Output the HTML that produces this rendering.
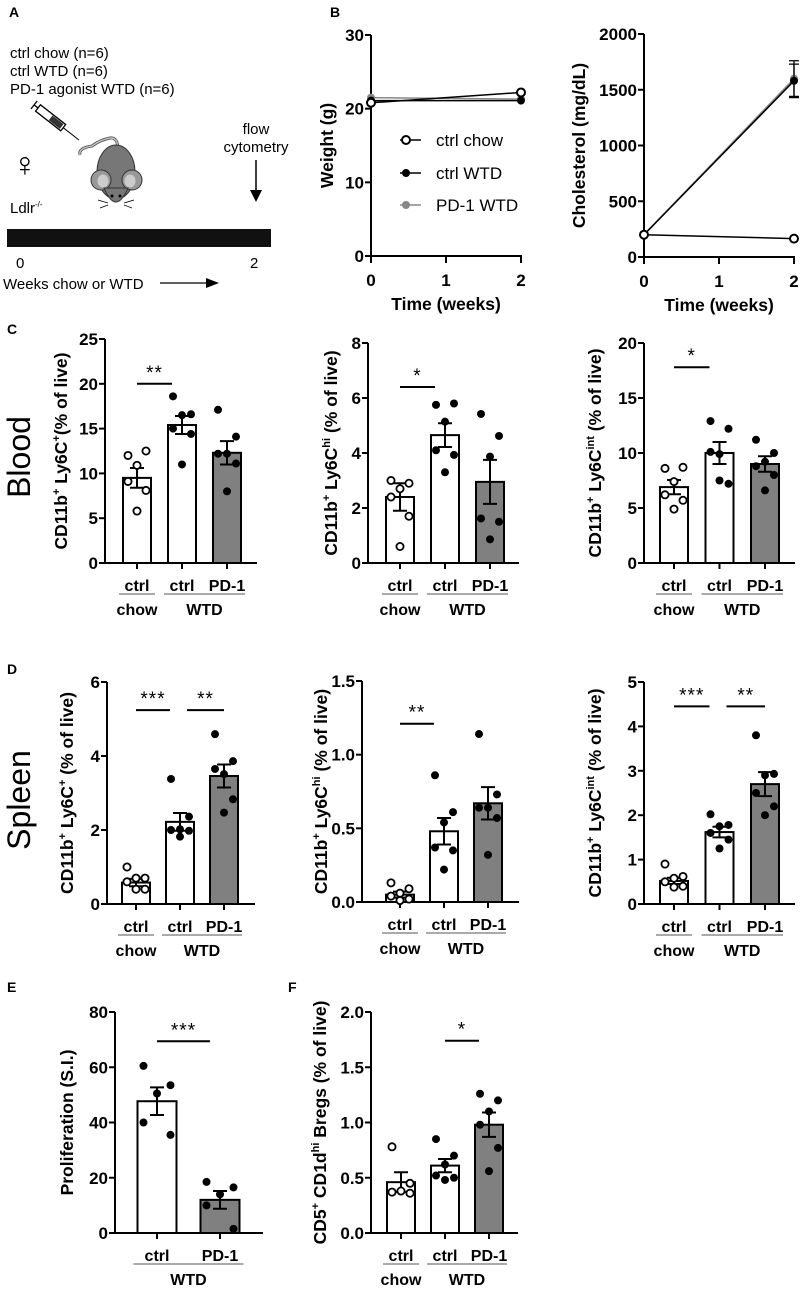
<!DOCTYPE html>
<html><head><meta charset="utf-8">
<style>
html,body{margin:0;padding:0;background:#fff;}
svg{display:block;font-family:"Liberation Sans",Arial,sans-serif;}
.b{font-weight:bold;}
</style></head>
<body>
<svg id="fig" width="804" height="1298" viewBox="0 0 804 1298" xmlns="http://www.w3.org/2000/svg">
<g>
  <text x="9" y="17" class="b" font-size="14">A</text>
  <text x="10" y="58" font-size="15">ctrl chow (n=6)</text>
  <text x="10" y="76" font-size="15">ctrl WTD (n=6)</text>
  <text x="10" y="94" font-size="15">PD-1 agonist WTD (n=6)</text>
  <g transform="translate(38,108) rotate(38)">
    <rect x="0" y="-4" width="32" height="8" fill="#fff" stroke="#000" stroke-width="1.3"/>
    <rect x="16" y="-3" width="14" height="6" fill="#333"/>
    <line x1="-5" y1="0" x2="0" y2="0" stroke="#000" stroke-width="1.3"/>
    <line x1="-5" y1="-5" x2="-5" y2="5" stroke="#000" stroke-width="1.3"/>
    <line x1="32" y1="0" x2="52" y2="0" stroke="#000" stroke-width="1"/>
  </g>
  <g>
    <path d="M80 155 Q78 148 92 146 Q100 140 110 138 Q118 137 118 150" fill="none" stroke="#555" stroke-width="3"/>
    <path d="M80 155 Q78 148 92 146 Q100 140 110 138 Q118 137 118 150" fill="none" stroke="#ccc" stroke-width="1.3"/>
    <ellipse cx="116" cy="172" rx="19" ry="27" fill="#777" stroke="#333" stroke-width="1"/>
    <ellipse cx="101" cy="180" rx="10" ry="10" fill="#999" stroke="#333"/>
    <ellipse cx="132" cy="180" rx="10" ry="10" fill="#999" stroke="#333"/>
    <ellipse cx="103" cy="181" rx="5.5" ry="6.5" fill="#ccc"/>
    <ellipse cx="130" cy="181" rx="5.5" ry="6.5" fill="#ccc"/>
    <path d="M104 188 Q116 216 128 188 Z" fill="#777" stroke="#333"/>
    <circle cx="112" cy="196" r="1.5" fill="#000"/><circle cx="120" cy="196" r="1.5" fill="#000"/>
    <path d="M108 203 L98 200 M108 205 L100 208 M124 203 L134 200 M124 205 L132 208" stroke="#000" stroke-width="0.8"/>
  </g>
  <text x="12" y="176" font-size="34">♀</text>
  <text x="10" y="213" font-size="15">Ldlr<tspan font-size="8" dy="-6">-/-</tspan></text>
  <text x="256" y="134" font-size="15" text-anchor="middle">flow</text>
  <text x="256" y="152" font-size="15" text-anchor="middle">cytometry</text>
  <line x1="256" y1="160" x2="256" y2="192" stroke="#000" stroke-width="1.5"/>
  <path d="M250 190 L262 190 L256 202 Z" fill="#000"/>
  <rect x="7" y="229" width="264" height="18" fill="#111"/>
  <text x="16" y="268" font-size="15">0</text>
  <text x="250" y="268" font-size="15">2</text>
  <text x="3" y="289" font-size="15">Weeks chow or WTD</text>
  <line x1="160" y1="283" x2="210" y2="283" stroke="#000" stroke-width="1.3"/>
  <path d="M206 278 L219 283 L206 288 Z" fill="#000"/>
</g>
<text x="330" y="17" class="b" font-size="14">B</text>
<text x="7" y="334" class="b" font-size="14">C</text>
<text x="7" y="674" class="b" font-size="14">D</text>
<text x="7" y="992" class="b" font-size="14">E</text>
<text x="288" y="992" class="b" font-size="14">F</text>
<text transform="translate(30,457) rotate(-90)" font-size="32" text-anchor="middle">Blood</text>
<text transform="translate(30,800) rotate(-90)" font-size="32" text-anchor="middle">Spleen</text>
<g id="charts"></g>
</svg>
<script>
// ---- Panel B data ----
const timeWeeks = [0, 2];
const weightChow = [20.8, 22.2];
const weightWTD = [21.1, 21.1];
const weightPD1 = [21.5, 21.3];
const cholChow = [200, 165];
const cholWTD = [200, 1580];
const cholPD1 = [200, 1600];
const cholSemWTD = [0, 150];
const cholSemPD1 = [0, 160];
const weightTicks = [0, 10, 20, 30];
const cholTicks = [0, 500, 1000, 1500, 2000];
const timeTicks = [0, 1, 2];

// ---- Bar chart data ----
const groups3 = ["ctrl", "ctrl", "PD-1"];
const groups2 = ["ctrl", "PD-1"];
const c1Means = [9.5, 15.4, 12.3];
const c1Sem = [1.1, 1.0, 1.3];
const c1Dots = [[12.0, 12.5, 10.9, 9.1, 8.1, 5.8], [18.6, 16.6, 16.5, 15.0, 14.4, 11.0], [17.1, 14.1, 12.2, 12.2, 11.1, 8.0]];
const c2Means = [2.4, 4.65, 2.95];
const c2Sem = [0.5, 0.43, 0.8];
const c2Dots = [[3.0, 2.9, 2.7, 2.4, 1.7, 0.6], [5.75, 5.8, 5.14, 4.1, 3.93, 3.3], [5.42, 4.62, 3.87, 1.62, 1.5, 0.86]];
const c3Means = [6.9, 10.0, 9.0];
const c3Sem = [0.65, 1.0, 0.7];
const c3Dots = [[8.6, 8.7, 7.4, 6.2, 5.7, 4.9], [12.9, 12.2, 9.9, 10.1, 7.2, 7.5], [11.2, 10.0, 9.2, 8.8, 8.0, 6.6]];
const d1Means = [0.58, 2.22, 3.46];
const d1Sem = [0.1, 0.24, 0.31];
const d1Dots = [[1.0, 0.7, 0.7, 0.6, 0.4, 0.4], [3.38, 2.36, 2.02, 2.0, 1.98, 1.82], [4.59, 3.86, 3.51, 3.65, 2.83, 2.47]];
const d2Means = [0.05, 0.48, 0.67];
const d2Sem = [0.02, 0.09, 0.11];
const d2Dots = [[0.13, 0.09, 0.06, 0.04, 0.02, 0.01], [0.86, 0.61, 0.54, 0.37, 0.35, 0.22], [1.14, 0.73, 0.64, 0.64, 0.57, 0.32]];
const d3Means = [0.52, 1.62, 2.7];
const d3Sem = [0.07, 0.12, 0.27];
const d3Dots = [[0.9, 0.62, 0.58, 0.5, 0.4, 0.38], [2.02, 1.78, 1.75, 1.6, 1.45, 1.25], [3.8, 2.93, 2.9, 2.5, 2.2, 2.0]];
const eMeans = [47.7, 12.0];
const eSem = [5.0, 3.2];
const eDots = [[60.5, 53.5, 50.5, 40.0, 35.5], [18.5, 16.5, 14.0, 10.0, 1.5]];
const fMeans = [0.46, 0.61, 0.98];
const fSem = [0.09, 0.06, 0.11];
const fDots = [[0.78, 0.45, 0.38, 0.37, 0.36], [0.85, 0.7, 0.62, 0.52, 0.5, 0.48], [1.26, 1.2, 1.1, 0.98, 0.77, 0.56]];
const c1Ticks = [0, 5, 10, 15, 20, 25];
const c2Ticks = [0, 2, 4, 6, 8];
const c3Ticks = [0, 5, 10, 15, 20];
const d1Ticks = [0, 2, 4, 6];
const d2Ticks = ["0.0", "0.5", "1.0", "1.5"];
const d3Ticks = [0, 1, 2, 3, 4, 5];
const eTicks = [0, 20, 40, 60, 80];
const fTicks = ["0.0", "0.5", "1.0", "1.5", "2.0"];
const c1Sig = [[0, 1, "**", 20.0]];
const c2Sig = [[0, 1, "*", 6.4]];
const c3Sig = [[0, 1, "*", 17.8]];
const d1Sig = [[0, 1, "***", 5.24], [1, 2, "**", 5.24]];
const d2Sig = [[0, 1, "**", 1.21]];
const d3Sig = [[0, 1, "***", 4.45], [1, 2, "**", 4.45]];
const eSig = [[0, 1, "***", 69.4]];
const fSig = [[1, 2, "*", 1.74]];

const NS = "http://www.w3.org/2000/svg";
const root = document.getElementById("charts");
function mk(tag, attrs, parent) {
  const e = document.createElementNS(NS, tag);
  for (const k in attrs) e.setAttribute(k, attrs[k]);
  (parent || root).appendChild(e);
  return e;
}
function txt(s, attrs, parent) { const e = mk("text", attrs, parent); e.textContent = s; return e; }

function barChart(cfg) {
  const g = mk("g", {});
  
  
  const ymax = parseFloat(cfg.ticks[cfg.ticks.length - 1]);
  const y = v => cfg.y0 - (v / ymax) * (cfg.y0 - cfg.yTop);
  const x = i => cfg.ax + cfg.first + i * cfg.step;
  const ya = mk("line", {x1: cfg.ax, y1: cfg.yTop, x2: cfg.ax, y2: cfg.y0 + 1, stroke: "#000", "stroke-width": 2}, g);
  
  
  const xa = mk("line", {x1: cfg.ax - 1, y1: cfg.y0, x2: cfg.xEnd, y2: cfg.y0, stroke: "#000", "stroke-width": 2}, g);
  
  
  cfg.ticks.forEach(t => {
    const yy = y(parseFloat(t));
    mk("line", {x1: cfg.ax - 6, y1: yy, x2: cfg.ax, y2: yy, stroke: "#000", "stroke-width": 2}, g);
    const tl = txt(String(t), {x: cfg.ax - 7, y: yy + 6, "font-size": 17, "font-weight": "bold", "text-anchor": "end"}, g);
    
    
  });
  const yt = txt("", {transform: `translate(${cfg.titleX},${(cfg.y0 + cfg.yTop) / 2}) rotate(-90)`, "font-size": 17.5, "font-weight": "bold", "text-anchor": "middle"}, g);
  yt.innerHTML = cfg.title;
  
  
  cfg.means.forEach((m, i) => {
    const cx = x(i);
    const bar = mk("rect", {x: cx - cfg.bw / 2, y: y(m), width: cfg.bw, height: cfg.y0 - y(m), fill: cfg.fills[i], stroke: "#000", "stroke-width": 2}, g);
    
    
    mk("line", {x1: cx, y1: cfg.y0, x2: cx, y2: cfg.y0 + 6, stroke: "#000", "stroke-width": 2}, g);
    const s = cfg.sem[i];
    const eb = mk("path", {d: `M${cx} ${y(m + s)} L${cx} ${y(m - s)} M${cx - 7} ${y(m + s)} L${cx + 7} ${y(m + s)} M${cx - 7} ${y(m - s)} L${cx + 7} ${y(m - s)}`, stroke: "#000", "stroke-width": 2, fill: "none"}, g);
    
    
    const n = cfg.dots[i].length;
    cfg.dots[i].forEach((v, j) => {
      const dx = (cfg.bw > 30 ? 1.5 : 1) * (n === 5 ? [-10, 10, 0, -10, 10][j] : [-10, 10, 0, -10, 10, 0][j]) * 0.9;
      const open = cfg.open[i];
      const d = mk("circle", {cx: cx + dx, cy: y(v), r: open ? 3.6 : 4, fill: open ? "#fff" : "#000", stroke: "#000", "stroke-width": open ? 1.8 : 0}, g);
      
      
    });
    const gl = txt(cfg.groups[i], {x: cx, y: cfg.y0 + 28, "font-size": 16, "font-weight": "bold", "text-anchor": "middle"}, g);
    
    
  });
  cfg.diets.forEach(dd => {
    const x1 = x(dd[0]) - cfg.bw / 2 - 4, x2 = x(dd[1]) + cfg.bw / 2 + 4;
    mk("line", {x1, y1: cfg.y0 + 31, x2, y2: cfg.y0 + 31, stroke: "#555", "stroke-width": 1}, g);
    const dl = txt(dd[2], {x: (x(dd[0]) + x(dd[1])) / 2, y: cfg.y0 + 52, "font-size": 16, "font-weight": "bold", "text-anchor": "middle"}, g);
    
    
  });
  cfg.sig.forEach((sg, k) => {
    const yy = y(sg[3]);
    const x1 = x(sg[0]) + (k > 0 ? 7 : 0), x2 = x(sg[1]) - (k > 0 ? 0 : 10);
    const l = mk("line", {x1, y1: yy, x2, y2: yy, stroke: "#000", "stroke-width": 2}, g);
    
    
    const st = txt(sg[2], {x: (x1 + x2) / 2, y: yy - 5, "font-size": 19, "text-anchor": "middle", "letter-spacing": "1"}, g);
    
    
  });
}
const F3 = ["#fff", "#fff", "#808080"], O3 = [true, false, false];
const D3 = [[0, 0, "chow"], [1, 2, "WTD"]];
const C11 = 'CD11b<tspan font-size="11" dy="-7">+</tspan><tspan dy="7"> Ly6C</tspan>';
barChart({name: "blood-ly6c", ax: 105, first: 32, step: 45, bw: 28, xEnd: 257, y0: 563, yTop: 339, ticks: c1Ticks, means: c1Means, sem: c1Sem, dots: c1Dots, fills: F3, open: O3, groups: groups3, diets: D3, sig: c1Sig, titleX: 67, title: C11 + '<tspan font-size="11" dy="-7">+</tspan><tspan dy="7">(% of live)</tspan>'});
barChart({name: "blood-ly6c-hi", ax: 368, first: 32, step: 45, bw: 28, xEnd: 519, y0: 563, yTop: 343, ticks: c2Ticks, means: c2Means, sem: c2Sem, dots: c2Dots, fills: F3, open: O3, groups: groups3, diets: D3, sig: c2Sig, titleX: 337, title: C11 + '<tspan font-size="11" dy="-7">hi</tspan><tspan dy="7"> (% of live)</tspan>'});
barChart({name: "blood-ly6c-int", ax: 644, first: 30, step: 45.5, bw: 28, xEnd: 795, y0: 563, yTop: 343, ticks: c3Ticks, means: c3Means, sem: c3Sem, dots: c3Dots, fills: F3, open: O3, groups: groups3, diets: D3, sig: c3Sig, titleX: 601, title: C11 + '<tspan font-size="11" dy="-7">int</tspan><tspan dy="7"> (% of live)</tspan>'});
barChart({name: "spleen-ly6c", ax: 107, first: 29, step: 44, bw: 28, xEnd: 255, y0: 904, yTop: 682, ticks: d1Ticks, means: d1Means, sem: d1Sem, dots: d1Dots, fills: F3, open: O3, groups: groups3, diets: D3, sig: d1Sig, titleX: 73, title: C11 + '<tspan font-size="11" dy="-7">+</tspan><tspan dy="7"> (% of live)</tspan>'});
barChart({name: "spleen-ly6c-hi", ax: 362, first: 38, step: 44, bw: 28, xEnd: 519, y0: 902, yTop: 681, ticks: d2Ticks, means: d2Means, sem: d2Sem, dots: d2Dots, fills: F3, open: O3, groups: groups3, diets: D3, sig: d2Sig, titleX: 327, title: C11 + '<tspan font-size="11" dy="-7">hi</tspan><tspan dy="7"> (% of live)</tspan>'});
barChart({name: "spleen-ly6c-int", ax: 644, first: 30, step: 45.5, bw: 28, xEnd: 795, y0: 904, yTop: 682, ticks: d3Ticks, means: d3Means, sem: d3Sem, dots: d3Dots, fills: F3, open: O3, groups: groups3, diets: D3, sig: d3Sig, titleX: 601, title: C11 + '<tspan font-size="11" dy="-7">int</tspan><tspan dy="7"> (% of live)</tspan>'});
barChart({name: "proliferation", ax: 115, first: 42, step: 63, bw: 39, xEnd: 263, y0: 1233, yTop: 1012, ticks: eTicks, means: eMeans, sem: eSem, dots: eDots, fills: ["#fff", "#808080"], open: [false, false], groups: groups2, diets: [[0, 1, "WTD"]], sig: eSig, titleX: 73, title: 'Proliferation (S.I.)'});
barChart({name: "bregs", ax: 371, first: 30, step: 44, bw: 28, xEnd: 518, y0: 1233, yTop: 1012, ticks: fTicks, means: fMeans, sem: fSem, dots: fDots, fills: F3, open: O3, groups: groups3, diets: D3, sig: fSig, titleX: 326, title: 'CD5<tspan font-size="11" dy="-7">+</tspan><tspan dy="7"> CD1d</tspan><tspan font-size="11" dy="-7">hi</tspan><tspan dy="7"> Bregs (% of live)</tspan>'});

function lineChart(cfg) {
  const g = mk("g", {});
  
  
  const ymax = cfg.ticks[cfg.ticks.length - 1];
  const y = v => cfg.y0 - (v / ymax) * (cfg.y0 - cfg.yTop);
  const x = t => cfg.ax + (t / 2) * (cfg.x2 - cfg.ax);
  mk("line", {x1: cfg.ax, y1: cfg.yTop, x2: cfg.ax, y2: cfg.y0 + 7, stroke: "#000", "stroke-width": 2}, g);
  mk("line", {x1: cfg.ax - 1, y1: cfg.y0, x2: cfg.x2 + 1, y2: cfg.y0, stroke: "#000", "stroke-width": 2}, g);
  cfg.ticks.forEach(t => {
    mk("line", {x1: cfg.ax - 6, y1: y(t), x2: cfg.ax, y2: y(t), stroke: "#000", "stroke-width": 2}, g);
    const tl = txt(String(t), {x: cfg.ax - 7, y: y(t) + 6, "font-size": 17, "font-weight": "bold", "text-anchor": "end"}, g);
    
    
  });
  timeTicks.forEach(t => {
    mk("line", {x1: x(t), y1: cfg.y0, x2: x(t), y2: cfg.y0 + 7, stroke: "#000", "stroke-width": 2}, g);
    const tl = txt(String(t), {x: x(t), y: cfg.y0 + 30, "font-size": 17, "font-weight": "bold", "text-anchor": "middle"}, g);
    
    
  });
  const xt = txt("Time (weeks)", {x: (cfg.ax + cfg.x2) / 2, y: cfg.y0 + 54, "font-size": 17.5, "font-weight": "bold", "text-anchor": "middle"}, g);
  
  
  const yt = txt(cfg.title, {transform: `translate(${cfg.titleX},${(cfg.y0 + cfg.yTop) / 2}) rotate(-90)`, "font-size": 17.5, "font-weight": "bold", "text-anchor": "middle"}, g);
  
  
  cfg.series.forEach(s => {
    const pl = mk("polyline", {points: timeWeeks.map((t, i) => x(t) + "," + y(s.v[i])).join(" "), fill: "none", stroke: s.c, "stroke-width": 1.5}, g);
    
    
    timeWeeks.forEach((t, i) => {
      if (s.e && s.e[i]) {
        const cx = x(t), a = y(s.v[i] + s.e[i]), b = y(s.v[i] - s.e[i]);
        mk("path", {d: `M${cx} ${a} L${cx} ${b} M${cx - 5} ${a} L${cx + 5} ${a} M${cx - 5} ${b} L${cx + 5} ${b}`, stroke: "#000", "stroke-width": 1.3}, g);
      }
      const p = mk("circle", {cx: x(t), cy: y(s.v[i]), r: 4, fill: s.f, stroke: s.open ? "#000" : s.f, "stroke-width": s.open ? 2 : 0}, g);
      
      
    });
  });
}
lineChart({name: "weight-chart", ax: 371, x2: 521, y0: 256, yTop: 35, ticks: weightTicks, titleX: 333, title: "Weight (g)",
  series: [{n: "pd1", v: weightPD1, c: "#888", f: "#888"}, {n: "wtd", v: weightWTD, c: "#000", f: "#000"}, {n: "chow", v: weightChow, c: "#000", f: "#fff", open: true}]});
lineChart({name: "cholesterol-chart", ax: 644, x2: 794, y0: 257, yTop: 34, ticks: cholTicks, titleX: 585, title: "Cholesterol (mg/dL)",
  series: [{n: "pd1", v: cholPD1, e: cholSemPD1, c: "#888", f: "#888"}, {n: "wtd", v: cholWTD, e: cholSemWTD, c: "#000", f: "#000"}, {n: "chow", v: cholChow, c: "#000", f: "#fff", open: true}]});
const lg = mk("g", {});


[["ctrl chow", "#fff", "#000", 140], ["ctrl WTD", "#000", "#000", 173], ["PD-1 WTD", "#888", "#888", 205]].forEach(it => {
  mk("line", {x1: 400, y1: it[3], x2: 421, y2: it[3], stroke: it[2] === "#888" ? "#888" : "#000", "stroke-width": 1.5}, lg);
  mk("circle", {cx: 406, cy: it[3], r: 4, fill: it[1], stroke: it[1] === "#fff" ? "#000" : it[1], "stroke-width": it[1] === "#fff" ? 2 : 0}, lg);
  const t = txt(it[0], {x: 436, y: it[3] + 6, "font-size": 17}, lg);
  
  
});
</script>
</body></html>
